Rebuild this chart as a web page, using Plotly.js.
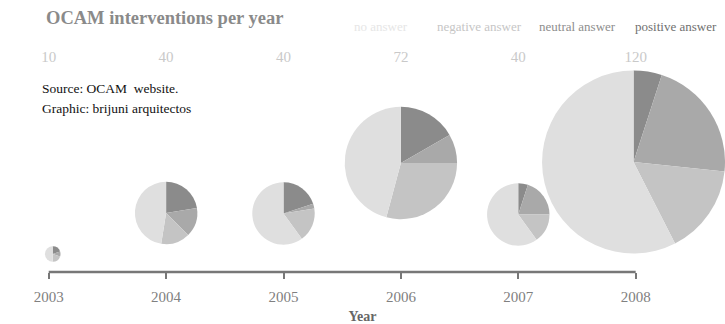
<!DOCTYPE html>
<html><head><meta charset="utf-8">
<script src="https://cdn.plot.ly/plotly-3.0.1.min.js"></script>
<style>html,body{margin:0;padding:0;background:#fff;overflow:hidden}#chart{width:725px;height:324px}</style>
</head><body><div id="chart"></div>
<script>
// ---- data ----
const years = [2003, 2004, 2005, 2006, 2007, 2008];
const categories = ['positive answer', 'neutral answer', 'negative answer', 'no answer'];
const positive = [2, 9, 8, 12, 2, 6];
const neutral  = [1, 6, 1, 6, 8, 26];
const negative = [2, 6, 7, 21, 6, 19];
const noAnswer = [5, 19, 24, 33, 24, 69];
const totals = years.map((_, i) => positive[i] + neutral[i] + negative[i] + noAnswer[i]);
const legendOrder = ['no answer', 'negative answer', 'neutral answer', 'positive answer'];

// ---- layout / style ----
const W = 725, H = 324;
const M = {l: 0, r: 0, t: 0, b: 52};
const plotW = W - M.l - M.r, plotH = H - M.t - M.b;
const xRange = [2002.585, 2008.761];
const pieCenterY = [254, 213, 213.5, 163, 214.5, 162];   // px from top
const pieOffsetX = [4, 0, 0, 0, 0, 0];                    // px nudge from tick
const radiusPerCount = 0.78;                              // px per intervention
const sliceColors = ['#8b8b8b', '#a9a9a9', '#c4c4c4', '#dfdfdf'];
const legendColors = ['#e6e6e6', '#c6c6c6', '#8e8e8e', '#707070'];
const legendLeftPx = [352, 435, 537, 633];
const serif = 'Liberation Serif, Times New Roman, serif';

const xPx = v => M.l + (v - xRange[0]) / (xRange[1] - xRange[0]) * plotW;
const clamp = v => Math.max(0, Math.min(1, v));

const traces = [];
years.forEach((yr, i) => {
  const cx = xPx(yr) + pieOffsetX[i], cy = pieCenterY[i], r = totals[i] * radiusPerCount;
  traces.push({
    type: 'pie',
    values: [positive[i], neutral[i], negative[i], noAnswer[i]],
    labels: categories,
    sort: false,
    direction: 'clockwise',
    rotation: 0,
    textinfo: 'none',
    hoverinfo: 'label+value',
    showlegend: false,
    marker: {colors: sliceColors, line: {width: 0}},
    domain: {
      x: [clamp((cx - r - M.l) / plotW), clamp((cx + r - M.l) / plotW)],
      y: [clamp((plotH - (cy - M.t) - r) / plotH), clamp((plotH - (cy - M.t) + r) / plotH)]
    }
  });
});

traces.push({
  type: 'scatter', mode: 'text',
  x: years, y: years.map(() => (plotH - 58) / plotH),
  text: totals.map(String),
  textposition: 'middle center',
  textfont: {family: serif, size: 15, color: '#c9c9c9'},
  cliponaxis: false, hoverinfo: 'skip', showlegend: false
});

const annotations = legendOrder.map((lab, k) => ({
  xref: 'paper', yref: 'paper', x: legendLeftPx[k] / W, y: (plotH - 27) / plotH,
  xanchor: 'left', yanchor: 'middle', showarrow: false, text: lab,
  font: {family: serif, size: 13, color: legendColors[k]}
}));
annotations.push(
  {xref: 'paper', yref: 'paper', x: 40 / W, y: (plotH - 89) / plotH, xanchor: 'left', yanchor: 'middle',
   showarrow: false, text: 'Source: OCAM&nbsp; website.', font: {family: serif, size: 13.5, color: '#111'}},
  {xref: 'paper', yref: 'paper', x: 40 / W, y: (plotH - 108) / plotH, xanchor: 'left', yanchor: 'middle',
   showarrow: false, text: 'Graphic: brijuni arquitectos', font: {family: serif, size: 13.5, color: '#111'}}
);

const layout = {
  width: W, height: H, margin: M,
  paper_bgcolor: '#fff', plot_bgcolor: '#fff',
  title: {text: '<b>OCAM interventions per year</b>', x: 46 / W, xanchor: 'left', xref: 'paper',
          y: 1 - 18 / H, yanchor: 'middle', yref: 'container',
          font: {family: serif, size: 18.5, color: '#8a8a8a'}},
  xaxis: {range: xRange, tickvals: years, ticktext: years.map(String), ticks: 'outside', ticklen: 6,
          tickwidth: 2, tickcolor: '#777', showline: false, showgrid: false, zeroline: false,
          ticklabelstandoff: 5,
          fixedrange: true, tickfont: {family: serif, size: 15, color: '#808080'},
          title: {text: '<b>Year</b>', font: {family: serif, size: 14, color: '#666'}, standoff: 12}},
  yaxis: {range: [0, 1], visible: false, fixedrange: true},
  shapes: [{type: 'line', xref: 'x', yref: 'paper', x0: years[0], x1: years[years.length - 1], y0: 0, y1: 0,
            line: {color: '#777', width: 2.5}}],
  annotations: annotations,
  showlegend: false
};

Plotly.newPlot('chart', traces, layout, {displayModeBar: false, staticPlot: true});
</script></body></html>
